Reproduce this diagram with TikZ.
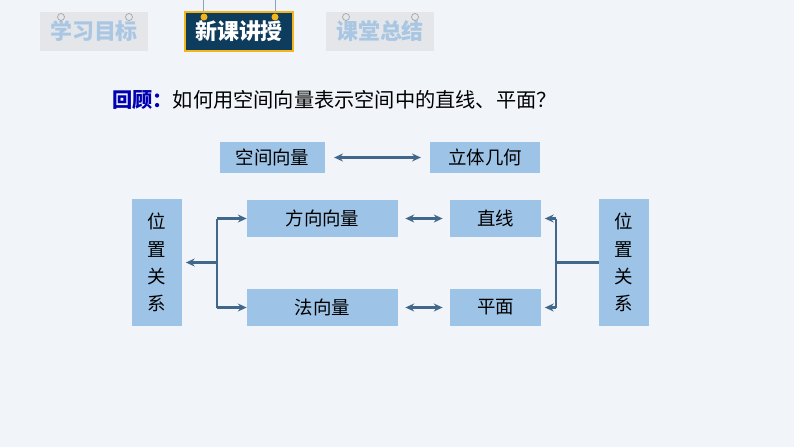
\documentclass[tikz,border=0pt]{standalone}
\usepackage{fontspec}
\setmainfont{Noto Sans CJK SC}
\usetikzlibrary{arrows.meta}
\definecolor{bg}{HTML}{F1F4F9}
\definecolor{boxblue}{HTML}{9DC3E6}
\definecolor{arrowc}{HTML}{41678A}
\definecolor{navy}{HTML}{0E3C5C}
\definecolor{gold}{HTML}{F2B51C}
\definecolor{tabgray}{HTML}{E4E6EA}
\definecolor{tabtext}{HTML}{A9C6E3}
\tikzset{
  box/.style={draw=none,fill=boxblue,inner sep=0pt,font=\fontsize{10.5}{12}\selectfont},
  link/.style={arrowc,line width=1.3pt,{Stealth[length=5pt,width=4.5pt]}-{Stealth[length=5pt,width=4.5pt]}},
  onearrow/.style={arrowc,line width=1.3pt,-{Stealth[length=5pt,width=4.5pt]}},
  tab/.style={minimum width=2.16cm,minimum height=0.78cm,inner sep=0pt,font=\fontsize{12.5}{14}\selectfont\bfseries}
}
\begin{document}
\begin{tikzpicture}[x=0.02cm,y=-0.02cm]
\fill[bg] (0,0) rectangle (794,447);
\useasboundingbox (0,0) rectangle (794,447);

% tabs
\draw[arrowc!60,line width=0.4pt] (203,0)--(203,14);
\draw[arrowc!60,line width=0.4pt] (275,0)--(275,14);
\node[tab,fill=tabgray,text=tabtext] (tab1) at (94,31.5) {学习目标};
\node[tab,fill=navy,draw=gold,line width=0.6pt,text=white] (tab2) at (239,31.5) {新课讲授};
\node[tab,fill=tabgray,text=tabtext] (tab3) at (380,31.5) {课堂总结};
\foreach \x in {61,129,346,415} \draw[gray!70,fill=tabgray,line width=0.4pt] (\x,17) circle (3.5);
\foreach \x in {204,275} \fill[gold] (\x,17) circle (3.5);

% title
\node[anchor=west,font=\fontsize{11.5}{14}\selectfont] (title) at (106,100) {\textcolor{blue!70!black}{\bfseries 回顾：}如何用空间向量表示空间中的直线、平面？};

% boxes
\node[box,minimum width=2.1cm,minimum height=0.62cm] (kj) at (272.5,157.5) {空间向量};
\node[box,minimum width=2.2cm,minimum height=0.62cm] (lt) at (485,157.5) {立体几何};
\node[box,minimum width=3.02cm,minimum height=0.74cm] (fx) at (322.5,218.5) {方向向量};
\node[box,minimum width=1.82cm,minimum height=0.74cm] (zx) at (495.5,218.5) {直线};
\node[box,minimum width=3.02cm,minimum height=0.74cm] (fa) at (322.5,307.5) {法向量};
\node[box,minimum width=1.82cm,minimum height=0.74cm] (pm) at (495.5,307.5) {平面};
\node[box,minimum width=1cm,minimum height=2.54cm,align=center,font=\fontsize{10.5}{15.5}\selectfont] (wl) at (157,262.5) {位\\置\\关\\系};
\node[box,minimum width=1cm,minimum height=2.54cm,align=center,font=\fontsize{10.5}{15.5}\selectfont] (wr) at (624,262.5) {位\\置\\关\\系};

% connectors
\coordinate (jl) at (217,262.5);
\coordinate (jr) at (556,262.5);
\draw[link] ([xshift=5]kj.east)--([xshift=-5]lt.west);
\draw[link] ([xshift=4]fx.east)--([xshift=-4]zx.west);
\draw[link] ([xshift=4]fa.east)--([xshift=-4]pm.west);
\draw[onearrow] (jl)--([xshift=2]wl.east);
\draw[onearrow] (jl|-fx.west)--(fx.west);
\draw[onearrow] (jl|-fa.west)--(fa.west);
\draw[arrowc,line width=1.3pt] (jl|-fx.west)--(jl|-fa.west);
\draw[arrowc,line width=1.3pt] (wr.west)--(jr);
\draw[arrowc,line width=1.3pt] (jr|-zx.east)--(jr|-pm.east);
\draw[onearrow] (jr|-zx.east)--([xshift=2]zx.east);
\draw[onearrow] (jr|-pm.east)--([xshift=2]pm.east);
\end{tikzpicture}
\end{document}
